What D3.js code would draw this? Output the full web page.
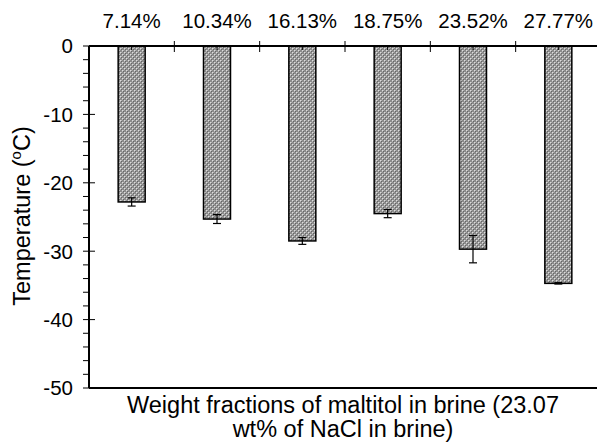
<!DOCTYPE html>
<html>
<head>
<meta charset="utf-8">
<script src="https://cdn.jsdelivr.net/npm/d3@7"></script>
<style>
  html, body { margin: 0; padding: 0; background: #fff; }
  svg { display: block; font-family: "Liberation Sans", Arial, sans-serif; }
</style>
</head>
<body>
<svg id="chart" width="597" height="445"></svg>
<script>
// Freezing temperature of brine for each maltitol fraction
const categories = ["7.14%", "10.34%", "16.13%", "18.75%", "23.52%", "27.77%"];
const temperatures = [-22.8, -25.3, -28.5, -24.5, -29.7, -34.7];
const errors = [0.6, 0.65, 0.5, 0.6, 2.0, 0.1];
const yTicks = [0, -10, -20, -30, -40, -50];

const svg = d3.select("#chart");
const margin = { left: 89, right: 601, top: 46, bottom: 388 };

const x = d3.scaleBand().domain(categories).range([margin.left, margin.right]).paddingInner(0).paddingOuter(0);
const y = d3.scaleLinear().domain([0, -50]).range([margin.top, margin.bottom]);

// Crosshatch-like gray fill
const defs = svg.append("defs");
const pat = defs.append("pattern").attr("id", "hatch").attr("patternUnits", "userSpaceOnUse")
  .attr("width", 4).attr("height", 4);
pat.append("rect").attr("width", 4).attr("height", 4).attr("fill", "#8c8c8c");
[[0,0,"#dcdcdc"],[2,2,"#dcdcdc"],[1,0,"#b4b4b4"],[0,1,"#b4b4b4"],[3,2,"#b4b4b4"],[2,3,"#b4b4b4"],[1,1,"#666"],[3,3,"#666"]]
  .forEach(([px, py, c]) => pat.append("rect").attr("x", px).attr("y", py).attr("width", 1).attr("height", 1).attr("fill", c));

const barW = 27;
const g = svg.append("g");

g.selectAll("rect.bar").data(temperatures).join("rect")
  .attr("class", "bar")
  .attr("x", (d, i) => x(categories[i]) + x.bandwidth() / 2 - barW / 2)
  .attr("y", y(0))
  .attr("width", barW)
  .attr("height", d => y(d) - y(0))
  .attr("fill", "url(#hatch)")
  .attr("stroke", "#000")
  .attr("stroke-width", 1.5);

// Error bars
const eb = g.selectAll("g.err").data(temperatures).join("g").attr("class", "err")
  .attr("transform", (d, i) => `translate(${x(categories[i]) + x.bandwidth() / 2},0)`);
eb.append("line").attr("y1", (d, i) => y(d - errors[i])).attr("y2", (d, i) => y(d + errors[i]))
  .attr("stroke", "#000").attr("stroke-width", 1.2);
eb.append("line").attr("x1", -4).attr("x2", 4).attr("y1", (d, i) => y(d - errors[i])).attr("y2", (d, i) => y(d - errors[i]))
  .attr("stroke", "#000").attr("stroke-width", 1.2);
eb.append("line").attr("x1", -4).attr("x2", 4).attr("y1", (d, i) => y(d + errors[i])).attr("y2", (d, i) => y(d + errors[i]))
  .attr("stroke", "#000").attr("stroke-width", 1.2);
// small inward tick at each bar centre on the zero line
eb.append("line").attr("y1", y(0)).attr("y2", y(0) + 4).attr("stroke", "#000").attr("stroke-width", 1);

// Y axis with minor ticks
const yAxis = g.append("g").attr("transform", `translate(${margin.left},0)`);
yAxis.append("line").attr("y1", y(0)).attr("y2", y(-50)).attr("stroke", "#000").attr("stroke-width", 2);
const minor = d3.range(0, -50.1, -2).filter(v => v % 10 !== 0);
yAxis.selectAll("line.minor").data(minor).join("line").attr("class", "minor")
  .attr("x1", -6).attr("x2", 0).attr("y1", d => y(d)).attr("y2", d => y(d))
  .attr("stroke", "#000").attr("stroke-width", 1);
yAxis.selectAll("line.major").data(yTicks).join("line").attr("class", "major")
  .attr("x1", -6).attr("x2", 6).attr("y1", d => y(d)).attr("y2", d => y(d))
  .attr("stroke", "#000").attr("stroke-width", 1);
yAxis.selectAll("text").data(yTicks).join("text")
  .attr("x", -16).attr("y", d => y(d)).attr("dy", "0.36em")
  .attr("text-anchor", "end").attr("font-size", 20.5).attr("fill", "#000")
  .text(d => d3.format("d")(d).replace("\u2212", "-"));

// Bottom frame line at -50
g.append("line").attr("x1", margin.left).attr("x2", 597).attr("y1", y(-50)).attr("y2", y(-50))
  .attr("stroke", "#000").attr("stroke-width", 2);

// Top category axis along zero
const xAxis = g.append("g");
xAxis.append("line").attr("x1", margin.left).attr("x2", 597).attr("y1", y(0)).attr("y2", y(0))
  .attr("stroke", "#000").attr("stroke-width", 2);
const bounds = categories.slice(1).map(c => x(c));
xAxis.selectAll("line.bt").data(bounds).join("line").attr("class", "bt")
  .attr("x1", d => d).attr("x2", d => d).attr("y1", y(0) - 5).attr("y2", y(0) + 6)
  .attr("stroke", "#000").attr("stroke-width", 1);
xAxis.selectAll("text").data(categories).join("text")
  .attr("x", d => x(d) + x.bandwidth() / 2).attr("y", 28)
  .attr("text-anchor", "middle").attr("font-size", 20.5).attr("fill", "#000")
  .text(d => d);

// Axis titles
const yt = svg.append("text").attr("transform", `translate(30,216) rotate(-90)`)
  .attr("text-anchor", "middle").attr("font-size", 23.5).attr("fill", "#000");
yt.append("tspan").text("Temperature (");
yt.append("tspan").attr("font-size", 15).attr("dy", -9).text("o");
yt.append("tspan").attr("dy", 9).text("C)");

svg.append("text").attr("x", 343).attr("y", 413).attr("text-anchor", "middle").attr("font-size", 23.5).attr("fill", "#000")
  .text("Weight fractions of maltitol in brine (23.07");
svg.append("text").attr("x", 343).attr("y", 437).attr("text-anchor", "middle").attr("font-size", 23.5).attr("fill", "#000")
  .text("wt% of NaCl in brine)");
</script>
</body>
</html>
